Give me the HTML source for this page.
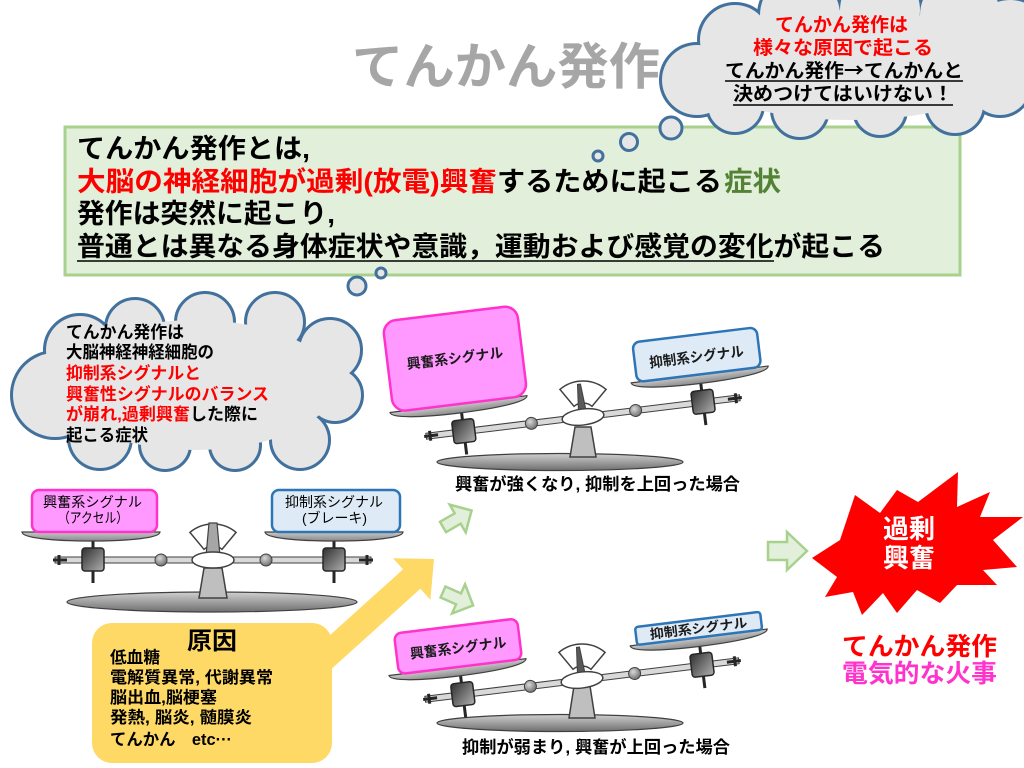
<!DOCTYPE html>
<html><head><meta charset="utf-8">
<style>
html,body{margin:0;padding:0;background:#fff;}
svg{display:block;}
text{font-family:"Liberation Sans","Noto Sans CJK JP",sans-serif;}
</style></head><body>
<svg width="1024" height="768" viewBox="0 0 1024 768" xmlns="http://www.w3.org/2000/svg" xmlns:xlink="http://www.w3.org/1999/xlink">
<defs>
<linearGradient id="gClamp" x1="0" y1="0" x2="1" y2="1"><stop offset="0" stop-color="#2f2f2f"/><stop offset="1" stop-color="#b0b0b0"/></linearGradient>
<radialGradient id="gKnob" cx="0.4" cy="0.35" r="0.7"><stop offset="0" stop-color="#d8d8d8"/><stop offset="1" stop-color="#6a6a6a"/></radialGradient>
<linearGradient id="gBase" x1="0" y1="0" x2="0" y2="1"><stop offset="0" stop-color="#d0d0d0"/><stop offset="1" stop-color="#6f6f6f"/></linearGradient>
<linearGradient id="gPan" x1="0" y1="0" x2="0" y2="1"><stop offset="0" stop-color="#c8c8c8"/><stop offset="1" stop-color="#8a8a8a"/></linearGradient>
<g id="arm">
 <line x1="-120" y1="-20" x2="-120" y2="23" stroke="#262626" stroke-width="3"/>
 <line x1="121" y1="-20" x2="121" y2="23" stroke="#262626" stroke-width="3"/>
 <rect x="-158" y="-3" width="316" height="6" fill="#d9d9d9" stroke="#404040" stroke-width="1"/>
 <path d="M-160,0 H-146 M-154,-5 V5 M146,0 H160 M154,-5 V5" stroke="#262626" stroke-width="3" fill="none"/>
 <path d="M-191,-28 H-53 C-53,-22 -84,-19 -122,-19 C-160,-19 -191,-22 -191,-28 Z" fill="url(#gPan)" stroke="#404040" stroke-width="1.2"/>
 <path d="M52,-28 H190 C190,-22 159,-19 121,-19 C83,-19 52,-22 52,-28 Z" fill="url(#gPan)" stroke="#404040" stroke-width="1.2"/>
 <rect x="-131" y="-12" width="22" height="23" rx="3" fill="url(#gClamp)" stroke="#262626" stroke-width="1.5"/>
 <rect x="110" y="-12" width="22" height="23" rx="3" fill="url(#gClamp)" stroke="#262626" stroke-width="1.5"/>
 <circle cx="-52" cy="0" r="6" fill="url(#gKnob)" stroke="#404040"/>
 <circle cx="53" cy="0" r="6" fill="url(#gKnob)" stroke="#404040"/>
 <ellipse cx="0" cy="0" rx="21" ry="8" fill="#fff" stroke="#404040" stroke-width="1.5"/>
</g>
<path id="fan" d="M-9,-10.7 L-23.1,-27.6 A36,36 0 0 1 23.1,-27.6 L9,-10.7 A14,14 0 0 0 -9,-10.7 Z" fill="#fff" stroke="#404040" stroke-width="1.5"/>
</defs>

<rect width="1024" height="768" fill="#fff"/>

<!-- Title -->
<text x="352" y="84" font-size="50" font-weight="bold" fill="#a6a6a6" textLength="308" lengthAdjust="spacingAndGlyphs">てんかん発作</text>

<!-- Green box -->
<rect x="65" y="127" width="895" height="148" fill="#e2efda" stroke="#a9d18e" stroke-width="3"/>
<g font-size="27" font-weight="bold">
<text x="77" y="158" fill="#000" textLength="233" lengthAdjust="spacingAndGlyphs">てんかん発作とは,</text>
<text x="77" y="191" fill="#ff0000" textLength="420" lengthAdjust="spacingAndGlyphs">大脳の神経細胞が過剰(放電)興奮</text>
<text x="497" y="191" fill="#000" textLength="225" lengthAdjust="spacingAndGlyphs">するために起こる</text>
<text x="724" y="191" fill="#548235" textLength="57" lengthAdjust="spacingAndGlyphs">症状</text>
<text x="77" y="223" fill="#000" textLength="258" lengthAdjust="spacingAndGlyphs">発作は突然に起こり,</text>
<text x="77" y="256" fill="#000" textLength="808" lengthAdjust="spacingAndGlyphs">普通とは異なる身体症状や意識，運動および感覚の変化が起こる</text>
</g>
<line x1="77" y1="261" x2="774" y2="261" stroke="#000" stroke-width="1.5"/>

<!-- Top-right cloud -->
<g stroke="#41719c" stroke-width="6" fill="#e6e6e6">
<circle cx="697" cy="80" r="35"/><circle cx="735" cy="40" r="35"/><circle cx="800" cy="15" r="40"/>
<circle cx="880" cy="10" r="40"/><circle cx="960" cy="15" r="40"/><circle cx="1010" cy="40" r="40"/>
<circle cx="1000" cy="85" r="30"/><circle cx="955" cy="105" r="28"/><circle cx="880" cy="110" r="25"/>
<circle cx="800" cy="110" r="27"/><circle cx="735" cy="105" r="27"/>
</g>
<g fill="#e6e6e6">
<circle cx="697" cy="80" r="35"/><circle cx="735" cy="40" r="35"/><circle cx="800" cy="15" r="40"/>
<circle cx="880" cy="10" r="40"/><circle cx="960" cy="15" r="40"/><circle cx="1010" cy="40" r="40"/>
<circle cx="1000" cy="85" r="30"/><circle cx="955" cy="105" r="28"/><circle cx="880" cy="110" r="25"/>
<circle cx="800" cy="110" r="27"/><circle cx="735" cy="105" r="27"/>
<ellipse cx="850" cy="65" rx="160" ry="55"/>
</g>
<g fill="#e6e6e6" stroke="#41719c" stroke-width="3">
<circle cx="671" cy="128" r="11"/><circle cx="629" cy="142" r="8.5"/><circle cx="598" cy="156" r="5"/>
</g>
<g font-size="19" font-weight="bold">
<text x="775" y="31" fill="#ff0000" textLength="133" lengthAdjust="spacingAndGlyphs">てんかん発作は</text>
<text x="753" y="54" fill="#ff0000" textLength="180" lengthAdjust="spacingAndGlyphs">様々な原因で起こる</text>
<text x="725" y="77" fill="#000" style="font-family:'Noto Sans CJK JP','Liberation Sans',sans-serif" textLength="238" lengthAdjust="spacingAndGlyphs">てんかん発作→てんかんと</text>
<text x="733" y="100" fill="#000" textLength="220" lengthAdjust="spacingAndGlyphs">決めつけてはいけない！</text>
</g>
<line x1="725" y1="81" x2="963" y2="81" stroke="#000" stroke-width="1.5"/>
<line x1="733" y1="105" x2="953" y2="105" stroke="#000" stroke-width="1.5"/>

<!-- Left cloud -->
<g stroke="#41719c" stroke-width="6" fill="#e6e6e6">
<circle cx="55" cy="395" r="42"/><circle cx="80" cy="350" r="34"/><circle cx="135" cy="328" r="28"/>
<circle cx="205" cy="322" r="28"/><circle cx="275" cy="322" r="28"/><circle cx="330" cy="350" r="30"/>
<circle cx="335" cy="395" r="26"/><circle cx="300" cy="440" r="28"/><circle cx="235" cy="445" r="24"/>
<circle cx="165" cy="445" r="24"/><circle cx="100" cy="438" r="30"/>
</g>
<g fill="#e6e6e6">
<circle cx="55" cy="395" r="42"/><circle cx="80" cy="350" r="34"/><circle cx="135" cy="328" r="28"/>
<circle cx="205" cy="322" r="28"/><circle cx="275" cy="322" r="28"/><circle cx="330" cy="350" r="30"/>
<circle cx="335" cy="395" r="26"/><circle cx="300" cy="440" r="28"/><circle cx="235" cy="445" r="24"/>
<circle cx="165" cy="445" r="24"/><circle cx="100" cy="438" r="30"/>
<ellipse cx="195" cy="385" rx="140" ry="65"/>
</g>
<g fill="#e6e6e6" stroke="#41719c" stroke-width="3">
<circle cx="357" cy="286" r="9"/><circle cx="381" cy="273" r="5"/>
</g>
<g font-size="17" font-weight="bold">
<text x="66" y="338" fill="#000" textLength="118" lengthAdjust="spacingAndGlyphs">てんかん発作は</text>
<text x="66" y="358" fill="#000" textLength="148" lengthAdjust="spacingAndGlyphs">大脳神経神経細胞の</text>
<text x="66" y="379" fill="#ff0000" textLength="135" lengthAdjust="spacingAndGlyphs">抑制系シグナルと</text>
<text x="66" y="400" fill="#ff0000" textLength="203" lengthAdjust="spacingAndGlyphs">興奮性シグナルのバランス</text>
<text x="66" y="420" fill="#ff0000" textLength="124" lengthAdjust="spacingAndGlyphs">が崩れ,過剰興奮</text>
<text x="190" y="420" fill="#000" textLength="68" lengthAdjust="spacingAndGlyphs">した際に</text>
<text x="66" y="441" fill="#000" textLength="82" lengthAdjust="spacingAndGlyphs">起こる症状</text>
</g>

<!-- Left balance -->
<g transform="translate(213,560)">
 <ellipse cx="-1" cy="42" rx="145" ry="10" fill="url(#gBase)" stroke="#404040" stroke-width="1.2"/>
 <path d="M-9,8 L9,8 L14,38 L-14,38 Z" fill="#bfbfbf" stroke="#404040" stroke-width="1.5"/>
 <use xlink:href="#fan" href="#fan"/>
 <path d="M-4,-37 L4,-37 L7,-4 L-7,-4 Z" fill="#a6a6a6" stroke="#404040" stroke-width="1.2"/>
 <use xlink:href="#arm" href="#arm"/>
</g>
<rect x="32" y="490" width="125" height="42" rx="7" fill="#ff99ff" stroke="#ff33cc" stroke-width="2.5"/>
<rect x="272" y="490" width="128" height="42" rx="7" fill="#deebf7" stroke="#2e75b6" stroke-width="2.5"/>
<g font-size="14" fill="#000">
<text x="43" y="507" textLength="99" lengthAdjust="spacingAndGlyphs">興奮系シグナル</text>
<text x="58" y="523" textLength="70" lengthAdjust="spacingAndGlyphs">（アクセル）</text>
<text x="285" y="507" textLength="98" lengthAdjust="spacingAndGlyphs">抑制系シグナル</text>
<text x="302" y="523" textLength="65" lengthAdjust="spacingAndGlyphs">(ブレーキ)</text>
</g>

<!-- Top tilted balance -->
<g transform="translate(583,417)">
 <ellipse cx="-23" cy="45" rx="123" ry="8.5" fill="url(#gBase)" stroke="#404040" stroke-width="1.2"/>
 <path d="M-8,10 L8,10 L13,40 L-13,40 Z" fill="#bfbfbf" stroke="#404040" stroke-width="1.5"/>
 <use xlink:href="#fan" href="#fan"/>
 <g transform="rotate(-7)">
  <path d="M-1.5,-33 L1.5,-33 L4,-4 L-4,-4 Z" fill="#595959" stroke="#404040" stroke-width="1"/>
  <use xlink:href="#arm" href="#arm"/>
  <rect x="-187.5" y="-119" width="135" height="91" rx="13" fill="#ff99ff" stroke="#ff33cc" stroke-width="2.5"/>
  <rect x="58" y="-68" width="125" height="40" rx="7" fill="#deebf7" stroke="#2e75b6" stroke-width="2.5"/>
  <text x="-168.5" y="-69" font-size="14" font-weight="bold" fill="#1a1a1a" textLength="97" lengthAdjust="spacingAndGlyphs">興奮系シグナル</text>
  <text x="72.5" y="-41" font-size="14" font-weight="bold" fill="#1a1a1a" textLength="95" lengthAdjust="spacingAndGlyphs">抑制系シグナル</text>
 </g>
</g>
<text x="455" y="490" font-size="17" font-weight="bold" fill="#000" textLength="285" lengthAdjust="spacingAndGlyphs">興奮が強くなり, 抑制を上回った場合</text>

<!-- Bottom tilted balance -->
<g transform="translate(582,680)">
 <ellipse cx="-22" cy="43" rx="123" ry="8.5" fill="url(#gBase)" stroke="#404040" stroke-width="1.2"/>
 <path d="M-8,6 L8,6 L13,38 L-13,38 Z" fill="#bfbfbf" stroke="#404040" stroke-width="1.5"/>
 <use xlink:href="#fan" href="#fan"/>
 <g transform="rotate(-7)">
  <path d="M-1.5,-33 L1.5,-33 L4,-4 L-4,-4 Z" fill="#595959" stroke="#404040" stroke-width="1"/>
  <use xlink:href="#arm" href="#arm"/>
  <rect x="-181" y="-69" width="124" height="41" rx="7" fill="#ff99ff" stroke="#ff33cc" stroke-width="2.5"/>
  <rect x="59" y="-46" width="126" height="18" rx="3" fill="#deebf7" stroke="#2e75b6" stroke-width="2.5"/>
  <text x="-167.5" y="-42" font-size="14" font-weight="bold" fill="#1a1a1a" textLength="97" lengthAdjust="spacingAndGlyphs">興奮系シグナル</text>
  <text x="73" y="-32.5" font-size="13" font-weight="bold" fill="#1a1a1a" textLength="98" lengthAdjust="spacingAndGlyphs">抑制系シグナル</text>
 </g>
</g>
<text x="462" y="753" font-size="17" font-weight="bold" fill="#000" textLength="268" lengthAdjust="spacingAndGlyphs">抑制が弱まり, 興奮が上回った場合</text>

<!-- Yellow arrow + cause box -->
<polygon points="299,663 403,569.4 393,558.3 434,559 430.4,599.9 420.4,588.8 316.4,682.5" fill="#ffd966"/>
<rect x="92" y="623" width="240" height="140" rx="20" fill="#ffd966"/>
<text x="187" y="649" font-size="24" font-weight="bold" fill="#000" textLength="50" lengthAdjust="spacingAndGlyphs">原因</text>
<g font-size="16.5" font-weight="bold" fill="#000">
<text x="110" y="663" textLength="50" lengthAdjust="spacingAndGlyphs">低血糖</text>
<text x="110" y="683" textLength="163" lengthAdjust="spacingAndGlyphs">電解質異常, 代謝異常</text>
<text x="110" y="703" textLength="107" lengthAdjust="spacingAndGlyphs">脳出血,脳梗塞</text>
<text x="110" y="723" textLength="142" lengthAdjust="spacingAndGlyphs">発熱, 脳炎, 髄膜炎</text>
<text x="110" y="745" textLength="122" lengthAdjust="spacingAndGlyphs">てんかん　etc···</text>
</g>

<!-- Green arrows -->
<g fill="#e2efda" stroke="#a9d18e" stroke-width="2.5" stroke-linejoin="miter">
<path d="M0,-6 H17 V-16 L33,0 L17,16 V6 H0 Z" transform="translate(443,527) rotate(-30)"/>
<path d="M0,-6 H17 V-16 L33,0 L17,16 V6 H0 Z" transform="translate(443,592) rotate(24)"/>
<path d="M768,542 H787 V532 L807,551 L787,570 V560 H768 Z"/>
</g>

<!-- Explosion -->
<polygon points="812,558 840,540 855,495 880,513 897,490 918,502 958,472 957,507 990,492 980,517 1023,517 993,540 1017,567 983,570 997,585 957,585 940,603 917,590 897,613 883,593 862,615 853,592 825,597 837,577" fill="#ff0000"/>
<text x="883" y="538" font-size="26" font-weight="bold" fill="#fff" textLength="52" lengthAdjust="spacingAndGlyphs">過剰</text>
<text x="883" y="567" font-size="26" font-weight="bold" fill="#fff" textLength="52" lengthAdjust="spacingAndGlyphs">興奮</text>
<text x="842" y="655" font-size="25" font-weight="bold" fill="#ff0000" textLength="155" lengthAdjust="spacingAndGlyphs">てんかん発作</text>
<text x="842" y="682" font-size="25" font-weight="bold" fill="#ff33cc" textLength="155" lengthAdjust="spacingAndGlyphs">電気的な火事</text>
</svg>
</body></html>
